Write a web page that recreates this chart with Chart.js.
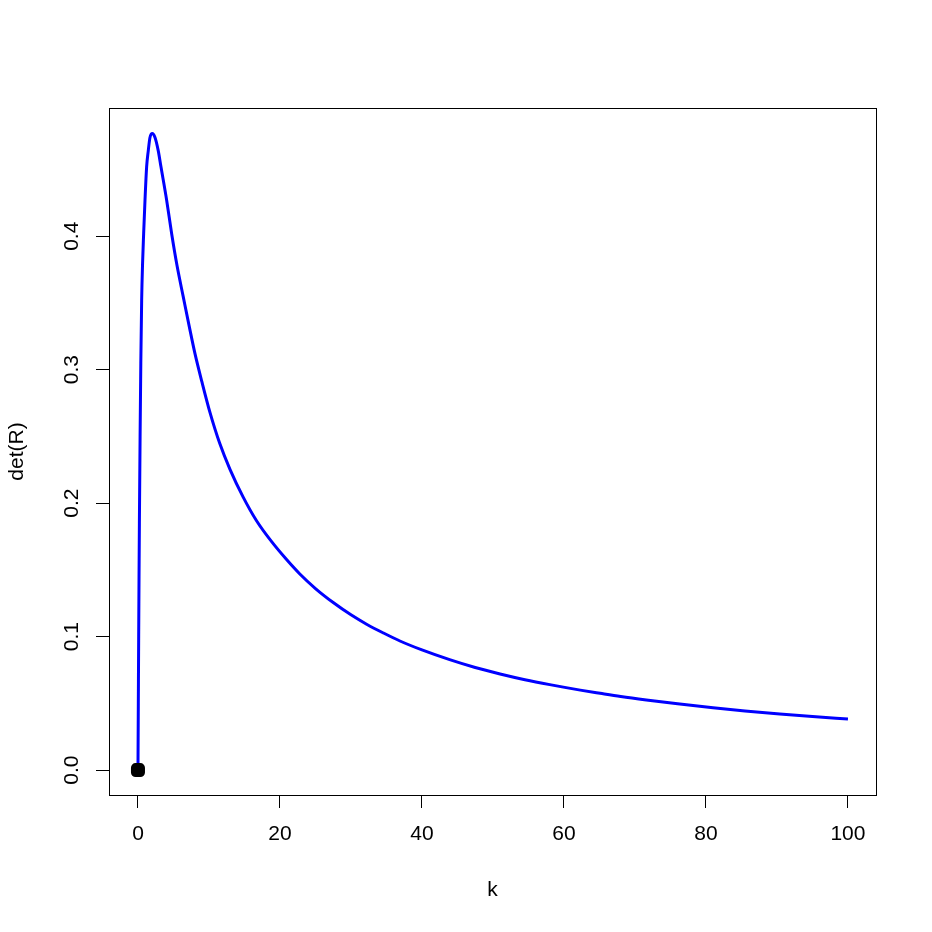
<!DOCTYPE html>
<html>
<head>
<meta charset="utf-8">
<script src="https://cdn.jsdelivr.net/npm/chart.js@4.4.0/dist/chart.umd.min.js"></script>
<style>
html,body{margin:0;padding:0;background:#fff;}
canvas{display:block;}
</style>
</head>
<body>
<canvas id="c" width="932" height="932"></canvas>
<script>
// ---- data ----
const kValues = [0, 0.05, 0.1, 0.15, 0.2, 0.3, 0.4, 0.52, 0.65, 0.8, 0.99, 1.22, 1.45, 1.69, 2.02, 2.4, 2.86, 3.24, 4.04, 4.74, 5.5, 6.38, 7.2, 8.03, 9.0, 10.14, 11.5, 12.96, 14.8, 16.7, 18.8, 20.9, 22.8, 25, 27.5, 30, 32.2, 34.5, 36.9, 40, 43.9, 47.5, 51, 54.5, 58, 62.3, 65.1, 68, 71.6, 76, 81, 85.5, 90.4, 95, 100];
const detValues = [0, 0.05, 0.1, 0.145, 0.185, 0.25, 0.305, 0.352, 0.38, 0.402, 0.427, 0.452, 0.464, 0.474, 0.477, 0.474, 0.464, 0.452, 0.427, 0.402, 0.378, 0.3546, 0.333, 0.312, 0.291, 0.268, 0.245, 0.2253, 0.2047, 0.1868, 0.1713, 0.1579, 0.1469, 0.136, 0.1255, 0.1163, 0.1093, 0.1029, 0.0967, 0.09, 0.0827, 0.0768, 0.072, 0.0677, 0.064, 0.0599, 0.0575, 0.0551, 0.0525, 0.0496, 0.0467, 0.0443, 0.042, 0.0401, 0.0382];
const markerK = [0];
const markerDet = [0];
const xTickValues = [0, 20, 40, 60, 80, 100];
const xTickLabels = ["0", "20", "40", "60", "80", "100"];
const yTickValues = [0, 0.1, 0.2, 0.3, 0.4];
const yTickLabels = ["0.0", "0.1", "0.2", "0.3", "0.4"];
const xTitle = "k";
const yTitle = "det(R)";

const FONT = "'Liberation Sans', Arial, sans-serif";
const FS = 21;

const lineData = kValues.map((k, i) => ({x: k, y: detValues[i]}));
const markerData = markerK.map((k, i) => ({x: k, y: markerDet[i]}));

const boxPlugin = {
  id: 'rbox',
  afterDraw(chart) {
    const {ctx, chartArea: a} = chart;
    ctx.save();
    ctx.strokeStyle = '#000';
    ctx.lineWidth = 1;
    ctx.strokeRect(Math.round(a.left) + 0.5, Math.round(a.top) + 0.5, Math.round(a.right - a.left), Math.round(a.bottom - a.top));
    // rotated y tick labels (R style, las=0)
    const ys = chart.scales.y;
    ctx.fillStyle = '#000';
    ctx.font = FS + 'px ' + FONT;
    ctx.textAlign = 'center';
    ctx.textBaseline = 'alphabetic';
    yTickValues.forEach((v, i) => {
      const py = ys.getPixelForValue(v);
      ctx.save();
      ctx.translate(a.left - 31, py);
      ctx.rotate(-Math.PI / 2);
      ctx.fillText(yTickLabels[i], 0, 0);
      ctx.restore();
    });
    ctx.restore();
  }
};

new Chart(document.getElementById('c'), {
  type: 'scatter',
  data: {
    datasets: [
      {
        data: lineData,
        showLine: true,
        borderColor: '#0000FF',
        borderWidth: 3,
        pointRadius: 0,
        cubicInterpolationMode: 'monotone',
        fill: false,
        order: 2
      },
      {
        data: markerData,
        showLine: false,
        pointStyle: 'rectRounded',
        pointRadius: 7,
        backgroundColor: '#000',
        borderColor: '#000',
        borderWidth: 2,
        order: 1
      }
    ]
  },
  options: {
    responsive: false,
    animation: false,
    devicePixelRatio: 1,
    layout: {padding: {left: 0, top: 108, right: 56, bottom: 0}},
    plugins: {legend: {display: false}, tooltip: {enabled: false}},
    scales: {
      x: {
        type: 'linear',
        min: -4.08,
        max: 103.95,
        afterBuildTicks(s) { s.ticks = xTickValues.map(v => ({value: v})); },
        afterFit(s) { s.height = 137; },
        border: {display: false},
        grid: {drawOnChartArea: false, drawTicks: true, tickLength: 13, color: '#000', lineWidth: 1},
        ticks: {
          color: '#000',
          font: {family: FONT, size: FS},
          padding: 14,
          maxRotation: 0,
          autoSkip: false,
          callback: (v) => { const i = xTickValues.indexOf(v); return i >= 0 ? xTickLabels[i] : ''; }
        },
        title: {display: true, text: xTitle, color: '#000', font: {family: FONT, size: FS}, padding: {top: 0, bottom: 29}}
      },
      y: {
        type: 'linear',
        min: -0.0187,
        max: 0.4961,
        afterBuildTicks(s) { s.ticks = yTickValues.map(v => ({value: v})); },
        afterFit(s) { s.width = 109; },
        border: {display: false},
        grid: {drawOnChartArea: false, drawTicks: true, tickLength: 13, color: '#000', lineWidth: 1},
        ticks: {display: false},
        title: {display: true, text: yTitle, color: '#000', font: {family: FONT, size: FS}, padding: {top: 5, bottom: 0}}
      }
    }
  },
  plugins: [boxPlugin]
});
</script>
</body>
</html>
